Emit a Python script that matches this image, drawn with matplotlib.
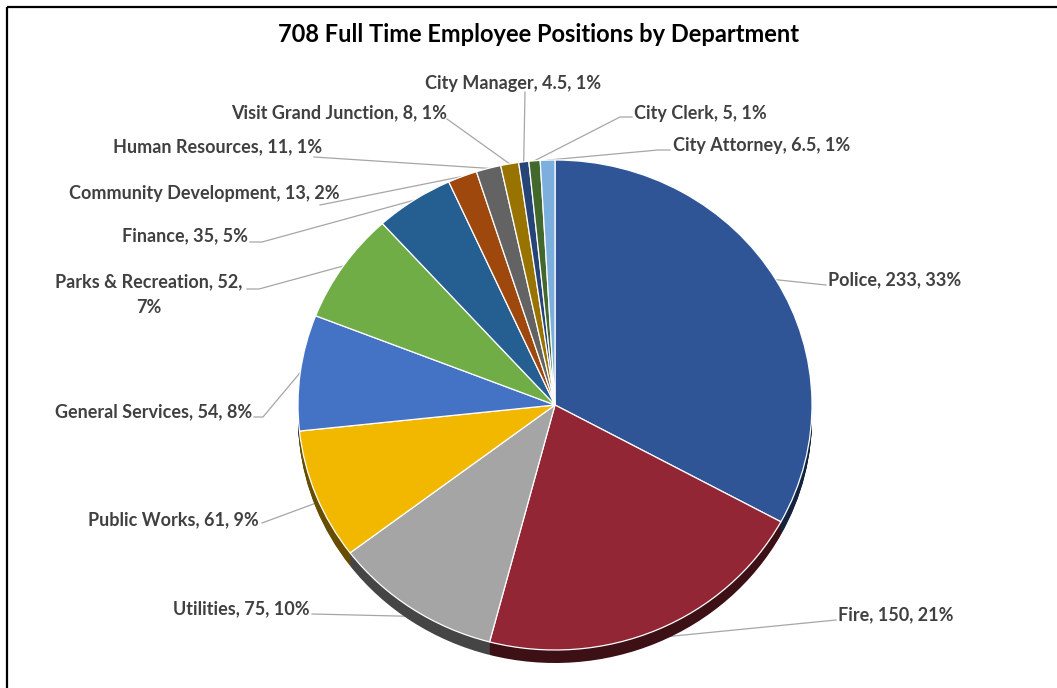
import matplotlib
matplotlib.use("Agg")
import matplotlib.pyplot as plt
import numpy as np
from matplotlib.colors import to_rgb

# ---------------- data ----------------
title = "708 Full Time Employee Positions by Department"
departments = ["Police", "Fire", "Utilities", "Public Works", "General Services",
               "Parks & Recreation", "Finance", "Community Development",
               "Human Resources", "Visit Grand Junction", "City Manager",
               "City Clerk", "City Attorney"]
positions = [233, 150, 75, 61, 54, 52, 35, 13, 11, 8, 4.5, 5, 6.5]
value_labels = ["233", "150", "75", "61", "54", "52", "35", "13", "11", "8", "4.5", "5", "6.5"]
pct_labels = ["33%", "21%", "10%", "9%", "8%", "7%", "5%", "2%", "1%", "1%", "1%", "1%", "1%"]

# ---------------- styles / layout ----------------
colors = ["#2F5597", "#922634", "#A5A5A5", "#F2B800", "#4472C4", "#70AD47",
          "#255E91", "#9E480E", "#636363", "#997300", "#264478", "#43682B", "#7CAFDD"]

# text anchor (x, y, ha) and leader start point in pixel coords
label_layout = [
    (828, 280, "left"),
    (838, 615, "left"),
    (310, 609, "right"),
    (259, 520, "right"),
    (252, 412, "right"),
    (149, 295, "center"),
    (248, 236, "right"),
    (340, 193, "right"),
    (322, 147, "right"),
    (447, 113, "right"),
    (513, 83, "center"),
    (634, 113, "left"),
    (673, 145, "left"),
]
leader_start = [
    (826, 285), (836, 620), (312, 614), (262, 523), (254, 417), (247, 289),
    (250, 242), (320, 205), (314, 157), (447, 119), (525, 92), (632, 117), (670, 150),
]
elbow_len = [0, 0, 0, 0, 9, 12, 12, 0, 0, 0, 0, -12, -12]

W, H = 1057, 688
fig = plt.figure(figsize=(W / 100, H / 100), dpi=100)
fig.patch.set_facecolor("white")

ax0 = fig.add_axes([0, 0, 1, 1])
ax0.set_xlim(0, W)
ax0.set_ylim(H, 0)
ax0.axis("off")

FONT = "Lato"
TXT = "#404040"

cx, cy, rx, ry, depth = 555, 405, 257, 245, 13
pax = fig.add_axes([(cx - rx) / W, (H - cy - ry) / H, 2 * rx / W, 2 * ry / H])

d = depth / ry
nsteps = 16
side_colors = [tuple(c * 0.42 for c in to_rgb(col)) for col in colors]
for k in range(nsteps, 0, -1):
    off = -d * k / nsteps
    sw, _ = pax.pie(positions, colors=side_colors, startangle=90, counterclock=False,
                    center=(0, off), radius=1, wedgeprops=dict(linewidth=0))
    for w in sw:
        w.set_clip_on(False)

wedges, _ = pax.pie(positions, colors=colors, startangle=90, counterclock=False,
                    radius=1, wedgeprops=dict(edgecolor="white", linewidth=0.9))
for w in wedges:
    w.set_clip_on(False)
pax.set_aspect("auto")
pax.set_xlim(-1, 1)
pax.set_ylim(-1, 1)
pax.axis("off")

# title
ax0.text(539, 34, title, ha="center", va="center", fontsize=17,
         fontweight="bold", color="black", family=FONT)

# frame
ax0.plot([6.5, 6.5], [H + 5, 6.5], color="black", lw=1.6, solid_capstyle="butt")
ax0.plot([6.5, W + 5], [6.5, 6.5], color="black", lw=1.6, solid_capstyle="butt")

inv = ax0.transData.inverted()
for i, (name, val, pct) in enumerate(zip(departments, value_labels, pct_labels)):
    x, y, ha = label_layout[i]
    if name == "Parks & Recreation":
        txt = f"{name}, {val},\n{pct}"
    else:
        txt = f"{name}, {val}, {pct}"
    ax0.text(x, y, txt, ha=ha, va="center", fontsize=13, fontweight="bold",
             color=TXT, family=FONT, linespacing=1.62, multialignment="center")
    w = wedges[i]
    mid = np.deg2rad((w.theta1 + w.theta2) / 2)
    px, py = np.cos(mid), np.sin(mid)
    ex, ey = inv.transform(pax.transData.transform((px, py)))
    if py < 0:
        ey += depth * 0.6
    sx, sy = leader_start[i]
    xs = [sx]
    ys = [sy]
    if elbow_len[i] != 0:
        xs.append(sx + elbow_len[i])
        ys.append(sy)
    xs.append(ex)
    ys.append(ey)
    ax0.plot(xs, ys, color="#A6A6A6", lw=0.9, zorder=1)

fig.savefig("out.png", dpi=100, facecolor="white")
